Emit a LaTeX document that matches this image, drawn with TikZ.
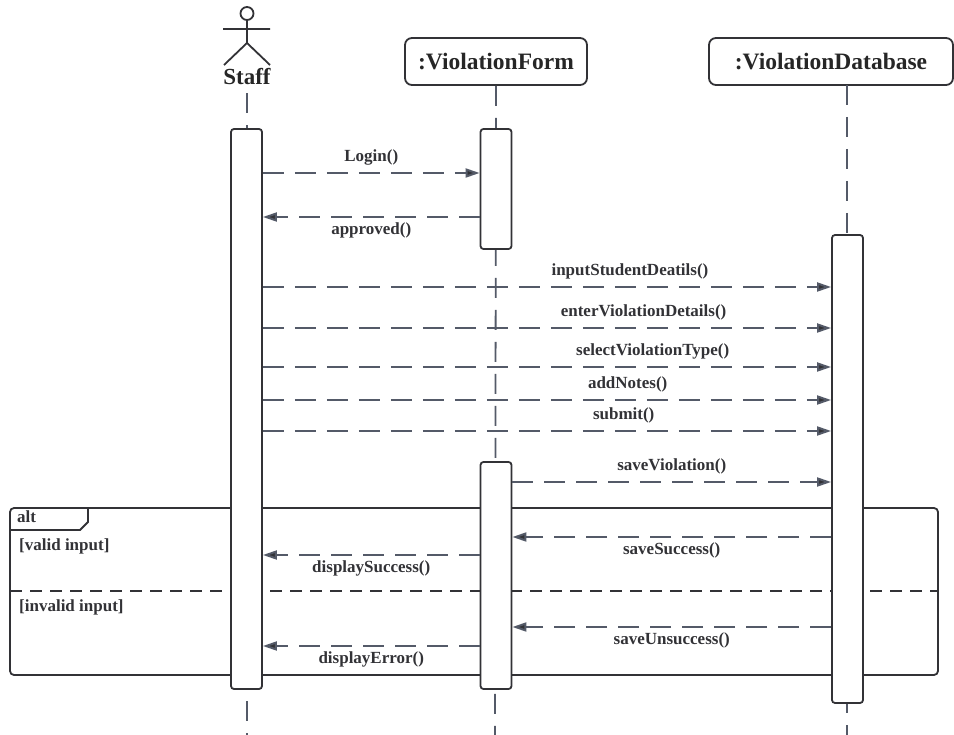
\documentclass[tikz,border=0pt]{standalone}
\usepackage{fontspec}
\setmainfont{Liberation Serif}
\usetikzlibrary{arrows.meta,positioning}
\definecolor{msgc}{RGB}{84,90,104}
\definecolor{linec}{RGB}{50,50,54}

\begin{document}
\begin{tikzpicture}[x=1pt,y=-1pt,
  lbl/.style={font=\bfseries\fontsize{17}{19}\selectfont, text=linec, inner sep=0pt},
  head/.style={draw=linec, line width=1.8pt, rounded corners=7pt, minimum height=47pt, fill=white,
    font=\bfseries\fontsize{23.5}{26}\selectfont, text=black!85},
  act/.style={draw=linec, line width=1.8pt, rounded corners=3pt, fill=white, minimum width=31pt, inner sep=0pt},
  life/.style={draw=msgc, line width=1.8pt, dash pattern=on 20pt off 12pt},
  msg/.style={draw=msgc, line width=2pt, dash pattern=on 21pt off 11pt,
    -{Triangle[length=14pt,width=9pt,fill=linec]}},
  frame/.style={draw=linec, line width=1.8pt},
  divider/.style={draw=linec, line width=2.4pt, dash pattern=on 12pt off 8pt}]
\useasboundingbox (0,0) rectangle (954,735);

% heads
\draw[linec, line width=1.8pt] (247,13.5) circle (6.5pt)
  (247,20) -- (247,43) (223,29) -- (270,29) (224,65) -- (247,43) -- (270,65);
\node[font=\bfseries\fontsize{23}{25}\selectfont, text=black!85, inner sep=0pt] (staff) at (247,77) {Staff};
\node[head, minimum width=182pt] (form) at (496,61.5) {:ViolationForm};
\node[head, minimum width=244pt] (db) at (831,61.5) {:ViolationDatabase};

% lifelines
\coordinate (staffEnd) at (247,735);
\coordinate (formEnd) at (495,735);
\coordinate (dbTop) at (847,85);
\coordinate (dbEnd) at (847,735);
\draw[life] ([yshift=-8pt]staff.south) -- (staffEnd);
\draw[life] (form.south) -- (formEnd);
\draw[life] (dbTop) -- (dbEnd);

% alt fragment
\draw[frame, rounded corners=4pt] (10,508) rectangle (938,675);
\draw[frame] (10,530) -- (80,530) -- (88,522) -- (88,508);
\node[lbl, anchor=west] (alt) at (17,517) {alt};
\node[lbl, anchor=west] (valid) at (19,546) {[valid input]};
\node[lbl, anchor=west] (invalid) at (19,607) {[invalid input]};
\draw[divider] (10,591) -- (938,591);

% activations
\node[act, minimum height=560pt] (staffAct) at (246.5,409) {};
\node[act, minimum height=120pt] (formActA) at (496,189) {};
\node[act, minimum height=227pt] (formActB) at (496,575.5) {};
\node[act, minimum height=468pt] (dbAct) at (847.5,469) {};

% message rows
\coordinate (yLogin) at (0,173);
\coordinate (yApproved) at (0,217);
\coordinate (yInput) at (0,287);
\coordinate (yEnter) at (0,328);
\coordinate (ySelect) at (0,367);
\coordinate (yNotes) at (0,400);
\coordinate (ySubmit) at (0,431);
\coordinate (ySave) at (0,482);
\coordinate (ySuccess) at (0,537);
\coordinate (yDispOk) at (0,555);
\coordinate (yFail) at (0,627);
\coordinate (yDispErr) at (0,646);

\draw[msg] (staffAct.east |- yLogin) -- node[lbl, above=6.5pt] {Login()} (formActA.west |- yLogin);
\draw[msg] (formActA.west |- yApproved) -- node[lbl, below=4.5pt] {approved()} (staffAct.east |- yApproved);
\draw[msg] (staffAct.east |- yInput) -- node[lbl, above=6.5pt, pos=.646] {inputStudentDeatils()} (dbAct.west |- yInput);
\draw[msg] (staffAct.east |- yEnter) -- node[lbl, above=6.5pt, pos=.67] {enterViolationDetails()} (dbAct.west |- yEnter);
\draw[msg] (staffAct.east |- ySelect) -- node[lbl, above=6.5pt, pos=.686] {selectViolationType()} (dbAct.west |- ySelect);
\draw[msg] (staffAct.east |- yNotes) -- node[lbl, above=6.5pt, pos=.642] {addNotes()} (dbAct.west |- yNotes);
\draw[msg] (staffAct.east |- ySubmit) -- node[lbl, above=6.5pt, pos=.635] {submit()} (dbAct.west |- ySubmit);
\draw[msg] (formActB.east |- ySave) -- node[lbl, above=6.5pt] {saveViolation()} (dbAct.west |- ySave);
\draw[msg] (dbAct.west |- ySuccess) -- node[lbl, below=4.5pt] {saveSuccess()} (formActB.east |- ySuccess);
\draw[msg] (formActB.west |- yDispOk) -- node[lbl, below=4.5pt] {displaySuccess()} (staffAct.east |- yDispOk);
\draw[msg] (dbAct.west |- yFail) -- node[lbl, below=4.5pt] {saveUnsuccess()} (formActB.east |- yFail);
\draw[msg] (formActB.west |- yDispErr) -- node[lbl, below=4.5pt] {displayError()} (staffAct.east |- yDispErr);
\end{tikzpicture}
\end{document}
